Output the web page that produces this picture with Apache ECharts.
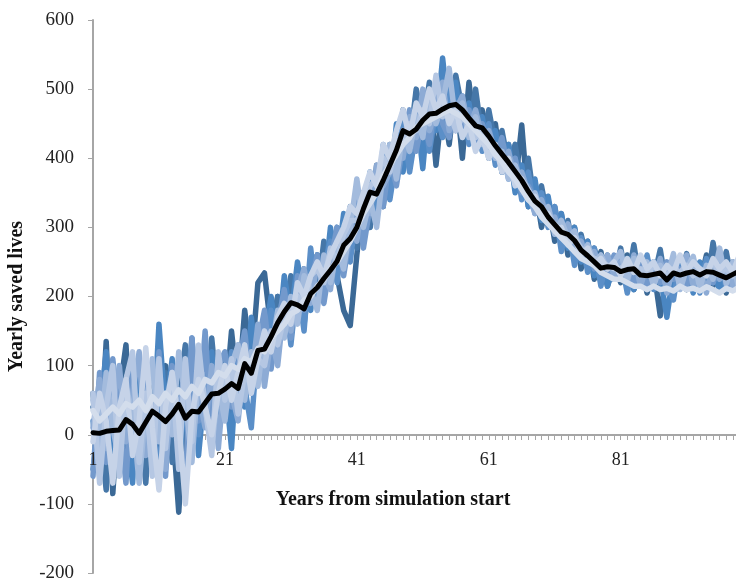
<!DOCTYPE html>
<html>
<head>
<meta charset="utf-8">
<script src="https://cdn.jsdelivr.net/npm/echarts@6/dist/echarts.min.js"></script>
<style>
  html, body { margin: 0; padding: 0; background: #fff; }
  #main { width: 736px; height: 586px; }
</style>
</head>
<body>
<div id="main"></div>
<script>
// years 1..100
var years = [];
for (var y = 1; y <= 100; y++) years.push(String(y));

var yTicks = [-200, -100, 0, 100, 200, 300, 400, 500, 600];

// simulation runs
var run1 = [60,-40,135,-85,60,130,-40,70,-20,90, -30,100,20,-112,40,120,10,80,20,110,
  40,150,60,180,100,220,234,150,200,160, 210,170,240,190,260,200,290,230,180,158,
  260,350,300,390,330,420,390,470,400,495, 430,500,390,480,420,500,400,510,430,470,
  400,450,380,420,360,448,330,360,300,340, 280,320,260,300,240,280,225,265,215,250,
  220,260,210,250,205,240,172,235,215,250, 210,245,220,260,215,240,205,250,225,245];
var run2 = [40,10,-80,90,20,-60,110,30,-70,60, 10,90,-40,60,130,-20,80,20,140,40,
  110,20,90,60,150,80,170,110,200,150, 230,180,160,240,200,280,230,300,250,330,
  270,340,300,380,350,410,380,460,420,500, 450,510,460,490,440,520,470,440,500,430,
  470,420,440,390,420,360,400,330,360,310, 330,280,310,260,290,250,270,230,260,225,
  270,220,275,215,255,225,268,210,250,220, 262,215,245,210,278,225,265,215,250,230];
var run3 = [-50,30,120,-30,80,10,-70,100,40,-20, 160,30,110,-50,60,100,-30,70,120,10,
  80,-20,130,40,170,90,140,200,130,230, 170,250,200,180,260,210,300,240,320,260,
  340,290,380,320,400,350,450,380,430,470, 385,490,440,545,460,510,430,480,420,460,
  410,440,380,420,350,390,330,370,310,345, 290,320,270,300,250,280,230,260,215,245,
  230,255,210,245,220,250,230,170,235,215, 240,205,250,220,235,210,245,225,255,220];
var run4 = [20,-60,50,100,-50,60,20,-40,90,30, -60,50,90,-20,40,140,0,60,-10,90,
  30,120,50,70,10,140,90,180,120,210, 130,220,150,270,190,240,280,220,300,250,
  330,280,360,310,420,340,400,450,380,440, 480,410,470,430,500,440,490,420,460,410,
  450,390,420,370,400,340,380,320,350,300, 330,265,305,245,285,235,270,215,255,225,
  255,205,245,220,260,210,250,220,195,255, 215,250,205,255,220,265,210,245,215,260];
var run5 = [-60,90,-40,110,20,-70,100,-50,90,-20, 120,-60,100,-10,-70,140,20,150,0,100,
  120,40,100,150,60,130,180,95,160,210, 140,230,180,220,260,190,250,300,230,290,
  350,270,330,380,330,400,360,420,470,410, 460,420,490,450,430,480,440,470,420,450,
  420,400,430,380,400,350,360,340,320,330, 300,310,280,290,255,270,240,255,230,260,
  225,250,220,245,210,240,220,250,225,240, 215,250,225,240,220,245,230,210,250,235];
var run6 = [10,80,-20,40,100,-10,60,120,-30,50, 20,-50,80,30,100,-10,60,10,100,-20,
  90,60,20,110,80,160,70,140,100,190, 150,210,240,190,250,230,210,280,260,310,
  280,350,320,390,360,380,430,400,460,430, 500,440,470,510,440,470,490,440,470,430,
  440,410,390,410,370,380,350,320,340,310, 315,285,305,265,280,250,265,235,260,230,
  250,220,260,215,245,225,255,205,245,220, 260,215,240,205,250,225,245,215,235,255];
var run7 = [50,-20,90,10,-40,70,30,-70,40,110, -10,60,0,120,50,-40,90,40,-20,70,
  20,100,130,50,120,70,150,120,180,140, 200,160,230,210,180,260,220,270,240,300,
  370,300,340,300,380,420,370,440,410,460, 430,500,450,480,530,450,480,430,460,420,
  430,400,410,370,390,360,340,350,320,330, 290,310,285,295,260,275,250,260,240,250,
  265,225,255,230,250,215,245,225,262,210, 240,258,212,245,225,270,218,250,208,245];
var run8 = [60,-70,40,100,-60,80,120,-40,60,-60, 110,-20,90,-50,110,-10,130,40,-30,120,
  50,110,30,90,70,110,100,150,130,170, 180,200,190,230,240,220,270,250,290,310,
  310,330,360,370,400,380,420,430,450,440, 470,450,520,460,470,440,460,450,430,440,
  420,410,400,390,380,370,355,335,330,310, 305,295,280,285,270,260,255,250,245,240,
  240,250,235,240,230,245,235,230,240,235, 245,230,240,235,250,235,240,230,245,250];
var run9 = [-10,60,20,-70,40,80,-30,20,126,10, -80,40,90,20,-100,30,80,40,0,60,
  100,50,90,130,60,110,150,120,170,190, 160,220,200,230,250,230,260,280,300,330,
  320,350,380,360,420,400,440,470,430,480, 460,500,470,490,450,470,430,450,410,430,
  400,420,380,400,360,370,340,345,320,320, 295,300,275,285,260,270,245,255,240,250,
  230,255,235,260,240,250,230,245,235,260, 235,250,240,230,255,240,250,235,260,245];
var run10 = [35,20,30,40,30,45,40,50,35,55, 45,60,50,65,55,70,60,80,75,90,
  85,100,95,110,105,125,120,140,150,160, 175,180,195,200,215,225,240,250,265,280,
  300,320,335,350,375,390,405,420,430,445, 450,455,460,465,470,465,460,450,440,430,
  420,405,395,380,370,355,340,330,315,305, 295,285,275,265,255,250,245,235,230,225,
  225,220,215,215,210,215,210,212,208,215, 210,212,208,214,210,205,212,208,214,210];

// average line
var average = [3,2,5,6,7,22,15,2,18,34, 27,19,30,44,24,34,33,46,59,60,
  66,74,67,103,89,122,124,142,162,178, 191,188,182,204,213,226,238,251,274,284,
  300,327,351,348,368,390,412,440,435,442, 455,464,465,471,476,478,470,458,447,444,
  432,418,406,394,381,368,352,338,330,315, 304,293,290,281,267,259,250,241,243,242,
  236,239,240,231,230,232,234,224,234,231, 234,236,231,236,235,231,227,232,237,240];

var runs = [run1, run2, run3, run4, run5, run6, run7, run8, run9, run10];
var runColors = ['#3b6996', '#4677a8', '#4a86c2', '#5b8fc8', '#7399cc',
                 '#8dabd5', '#a3bbdd', '#b5c7e3', '#c6d3e8', '#d3ddec'];

var chartDom = document.getElementById('main');
var myChart = echarts.init(chartDom);
var option;

var series = runs.map(function (r, i) {
  return {
    type: 'line',
    data: r,
    symbol: 'none',
    lineStyle: { color: runColors[i], width: 5.5, cap: 'round', join: 'round' },
    z: 2
  };
});
series.push({
  type: 'line',
  data: average,
  symbol: 'none',
  lineStyle: { color: '#000', width: 5, cap: 'round', join: 'round' },
  z: 3
});

var serif = '"Liberation Serif", "DejaVu Serif", serif';
var gridTop = 20, gridBottom = 13;
var plotH = 586 - gridTop - gridBottom;
// x axis sits on y = 0: 200 of the 800 units above the bottom
var zeroOffset = -Math.round(plotH * 200 / 800);

option = {
  animation: false,
  backgroundColor: '#fff',
  grid: { left: 93, right: -10, top: gridTop, bottom: gridBottom, outerBoundsMode: 'none' },
  xAxis: [{
    type: 'category',
    data: years,
    boundaryGap: false,
    position: 'bottom',
    offset: zeroOffset,
    axisLine: { onZero: false, lineStyle: { color: '#a6a6a6', width: 2 } },
    axisTick: { show: true, interval: 0, length: 5, lineStyle: { color: '#a6a6a6', width: 1 } },
    axisLabel: { show: false },
    splitLine: { show: false }
  }, {
    // same axis again, only for the labels so they sit above the lines
    type: 'category',
    data: years,
    boundaryGap: false,
    position: 'top',
    offset: -(plotH + zeroOffset),
    z: 10,
    axisLine: { show: false, onZero: false },
    axisTick: { show: false },
    axisLabel: { inside: true, interval: 19, showMinLabel: true, margin: 16,
                 color: '#222', fontFamily: serif, fontSize: 18 },
    splitLine: { show: false }
  }],
  yAxis: {
    type: 'value',
    min: yTicks[0],
    max: yTicks[yTicks.length - 1],
    interval: 100,
    name: 'Yearly saved lives',
    nameLocation: 'middle',
    nameGap: 66,
    nameTextStyle: { color: '#111', fontFamily: serif, fontWeight: 'bold', fontSize: 20 },
    axisLine: { show: true, lineStyle: { color: '#a6a6a6', width: 2 } },
    axisTick: { show: true, length: 5, lineStyle: { color: '#a6a6a6', width: 1 } },
    axisLabel: { margin: 19, color: '#222', fontFamily: serif, fontSize: 19 },
    splitLine: { show: false }
  },
  graphic: [{
    type: 'text',
    x: 393,
    y: 500,
    style: { text: 'Years from simulation start', fill: '#111',
             align: 'center', verticalAlign: 'middle',
             font: 'bold 20px ' + serif }
  }],
  series: series
};

option && myChart.setOption(option);
</script>
</body>
</html>
